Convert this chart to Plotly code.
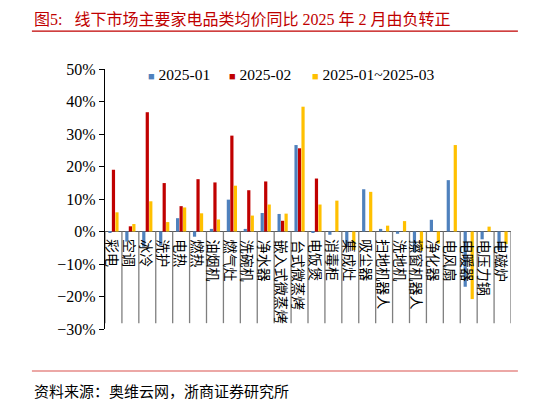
import plotly.graph_objects as go

# 品类
categories = ["彩电", "空调", "冰冷", "洗护", "电热", "燃热", "油烟机", "燃气灶", "洗碗机", "净水器",
              "嵌入式微蒸烤", "台式微蒸烤", "电饭煲", "消毒柜", "集成灶", "吸尘器", "扫地机器人", "洗地机",
              "擦窗机器人", "净化器", "电风扇", "电暖器", "电压力锅", "电磁炉"]

# 均价同比 (%)
jan = [-0.2, -3.1, -4.7, -4.3, 4.1, -1.6, 0.8, 9.8, 0.8, 5.7,
       5.4, 26.6, -0.4, -1.0, -4.4, 13.0, 0.8, -0.7,
       -6.4, 3.6, 15.8, -17.0, -2.4, -5.7]
feb = [19.0, 1.6, 36.7, 14.9, 7.8, 16.1, 15.1, 29.5, 12.7, 15.4,
       3.3, 25.6, 16.3, None, None, None, None, None,
       None, None, None, None, None, None]
q1 = [5.9, 2.3, 9.3, 2.9, 7.4, 5.6, 3.7, 14.1, 4.9, 8.3,
      5.5, 38.4, 8.3, 9.5, -5.7, 12.2, 1.8, 3.2,
      -5.9, -3.7, 26.6, -20.8, 1.5, -3.9]

series_names = ["2025-01", "2025-02", "2025-01~2025-03"]
series_colors = ["#4F81BD", "#C00000", "#FFC000"]
series_vals = [jan, feb, q1]

serif = "Liberation Serif, Times New Roman, Noto Sans CJK SC"
cjk = "Noto Sans CJK SC"

fig = go.Figure()
for name, vals, col in zip(series_names, series_vals, series_colors):
    fig.add_trace(go.Bar(x=categories, y=vals, name=name, marker=dict(color=col, line=dict(width=0))))

# category separators below the zero line
shapes = []
for i in range(len(categories) + 1):
    shapes.append(dict(type="line", xref="x", yref="y", x0=i - 0.5, x1=i - 0.5, y0=0, y1=-28.2,
                       line=dict(color="#7f7f7f", width=1.3)))
# title / footer rules
shapes.append(dict(type="line", xref="paper", yref="paper", x0=-0.18, x1=1.017, y0=1.146, y1=1.146,
                   line=dict(color="#C00000", width=1.2)))
shapes.append(dict(type="line", xref="paper", yref="paper", x0=-0.18, x1=1.017, y0=-0.1615, y1=-0.1615,
                   line=dict(color="#D9534F", width=1.2)))

annotations = []
for c in categories:
    annotations.append(dict(x=c, y=0, xref="x", yref="y", text=c, textangle=90, showarrow=False,
                            xanchor="center", yanchor="top", yshift=-6,
                            font=dict(family=cjk, size=14, color="#000000")))

# legend drawn as text so the spacing follows the original
legend_x = [0.1, 0.3, 0.505]
for name, col, lx in zip(series_names, series_colors, legend_x):
    annotations.append(dict(x=lx, y=0.978, xref="paper", yref="paper", xanchor="left", yanchor="middle",
                            showarrow=False,
                            text='<span style="color:%s;font-size:11px">■</span> %s' % (col, name),
                            font=dict(family=serif, size=15.5, color="#000000")))

annotations.append(dict(x=-0.18, y=1.232, xref="paper", yref="paper", xanchor="left", yanchor="top",
                        showarrow=False, text="图5:   线下市场主要家电品类均价同比 2025 年 2 月由负转正",
                        font=dict(family=serif, size=16, color="#C00000")))
annotations.append(dict(x=-0.18, y=-0.235, xref="paper", yref="paper", xanchor="left", yanchor="middle",
                        showarrow=False, text="资料来源：奥维云网，浙商证券研究所",
                        font=dict(family=cjk, size=15, color="#000000")))

fig.update_layout(
    width=548, height=402,
    margin=dict(l=97, r=45, t=61, b=81),
    paper_bgcolor="white", plot_bgcolor="white",
    barmode="group", bargap=0.38, bargroupgap=0.08,
    showlegend=False,
    xaxis=dict(showticklabels=False, showline=False, ticks="", showgrid=False, zeroline=False,
               range=[-0.5, len(categories) - 0.5]),
    yaxis=dict(range=[-30, 50], dtick=10, ticksuffix="%", showgrid=False,
               showline=True, linecolor="#000000", linewidth=1.3,
               ticks="outside", ticklen=5, tickcolor="#000000",
               zeroline=True, zerolinecolor="#595959", zerolinewidth=1.3,
               tickfont=dict(family=serif, size=16, color="#000000")),
    shapes=shapes,
    annotations=annotations,
)

fig.write_html("out.html")
